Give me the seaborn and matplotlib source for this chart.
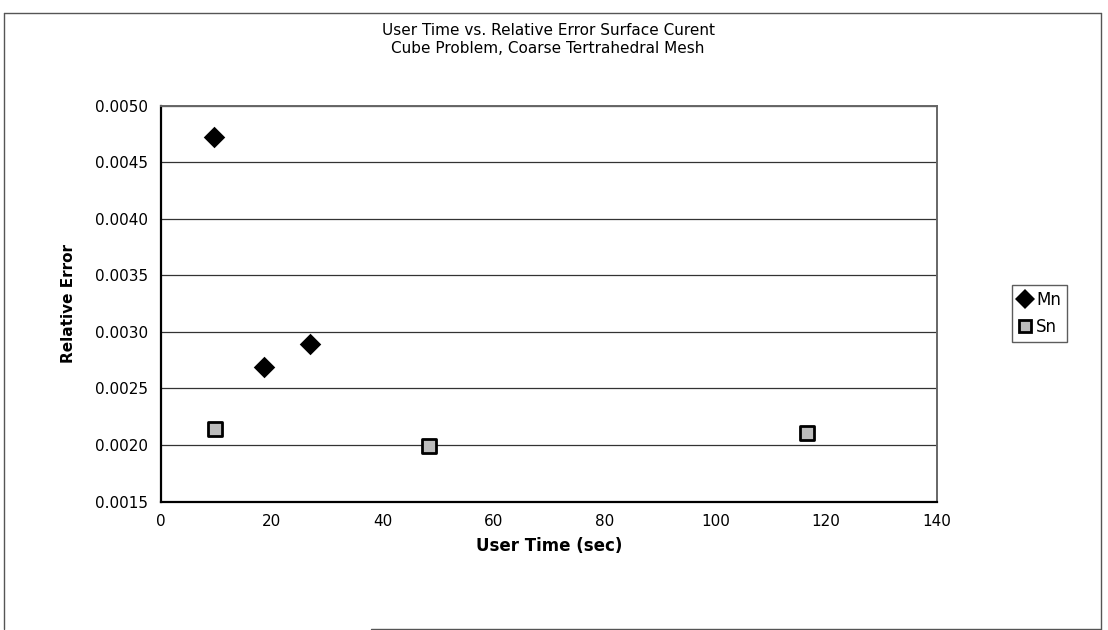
import matplotlib
matplotlib.use("Agg")
import matplotlib.pyplot as plt
import seaborn as sns
import pandas as pd
from matplotlib.lines import Line2D

mn_time = [9.5, 18.6, 26.9]
mn_error = [0.00472, 0.00269, 0.00289]
sn_time = [9.7, 48.3, 116.6]
sn_error = [0.00214, 0.00199, 0.00211]
series_names = ["Mn", "Sn"]
x_ticks = [0, 20, 40, 60, 80, 100, 120, 140]
y_ticks = [0.0015, 0.0020, 0.0025, 0.0030, 0.0035, 0.0040, 0.0045, 0.0050]

mn_df = pd.DataFrame({"time": mn_time, "error": mn_error})
sn_df = pd.DataFrame({"time": sn_time, "error": sn_error})

sns.set_theme(style="white")
plt.rcParams["font.family"] = ["DejaVu Sans"]

fig = plt.figure(figsize=(11.08, 6.30), dpi=100)
ax = fig.add_axes([0.1453, 0.2038, 0.7004, 0.6284])

# outer chart-area frame (scanned: bottom edge only partly visible)
frame_kw = dict(transform=fig.transFigure, color="#555555", linewidth=1.0)
fig.add_artist(Line2D([0.004, 0.994], [0.980, 0.980], **frame_kw))
fig.add_artist(Line2D([0.004, 0.004], [0.002, 0.980], **frame_kw))
fig.add_artist(Line2D([0.994, 0.994], [0.002, 0.980], **frame_kw))
fig.add_artist(Line2D([0.335, 0.994], [0.002, 0.002], **frame_kw))

sns.scatterplot(data=mn_df, x="time", y="error", color="black", marker="D",
                s=120, linewidth=0, ax=ax, zorder=3)
sns.scatterplot(data=sn_df, x="time", y="error", color="#bcbcbc", marker="s",
                s=110, edgecolor="black", linewidth=2.0, ax=ax, zorder=3)

ax.set_xlim(0, 140)
ax.set_ylim(0.0015, 0.0050)
ax.set_xticks(x_ticks)
ax.set_yticks(y_ticks)
ax.set_xticklabels([str(t) for t in x_ticks], fontsize=11)
ax.set_yticklabels([f"{t:.4f}" for t in y_ticks], fontsize=11)
ax.yaxis.grid(True, color="#333333", linewidth=0.9)
ax.xaxis.grid(False)
ax.tick_params(axis="both", which="both", direction="out", length=4, width=1,
               color="black", pad=5, labelcolor="black")
for side in ["left", "bottom"]:
    ax.spines[side].set_color("black")
    ax.spines[side].set_linewidth(1.6)
for side in ["top", "right"]:
    ax.spines[side].set_color("#666666")
    ax.spines[side].set_linewidth(1.4)

ax.set_xlabel("User Time (sec)", fontsize=12, fontweight="bold", labelpad=6, color="black")
ax.set_ylabel("Relative Error", fontsize=11, fontweight="bold", labelpad=14, color="black")

fig.text(0.4946, 0.951, "User Time vs. Relative Error Surface Curent", ha="center", va="center",
         fontsize=11, color="black")
fig.text(0.4946, 0.923, "Cube Problem, Coarse Tertrahedral Mesh", ha="center", va="center",
         fontsize=11, color="black")

handles = [
    Line2D([], [], marker="D", linestyle="none", markerfacecolor="black", markeredgecolor="black",
           markeredgewidth=0, markersize=10),
    Line2D([], [], marker="s", linestyle="none", markerfacecolor="#bcbcbc", markeredgecolor="black",
           markeredgewidth=2.0, markersize=9),
]
leg = fig.legend(handles, series_names, loc="lower left", bbox_to_anchor=(0.9134, 0.457),
                 frameon=True, fontsize=12, handlelength=0.8, handletextpad=0.3,
                 borderpad=0.35, labelspacing=0.55, borderaxespad=0, fancybox=False)
leg.get_frame().set_edgecolor("#333333")
leg.get_frame().set_linewidth(1.0)
for t in leg.get_texts():
    t.set_color("black")

fig.savefig("out.png", dpi=100, facecolor="white")
